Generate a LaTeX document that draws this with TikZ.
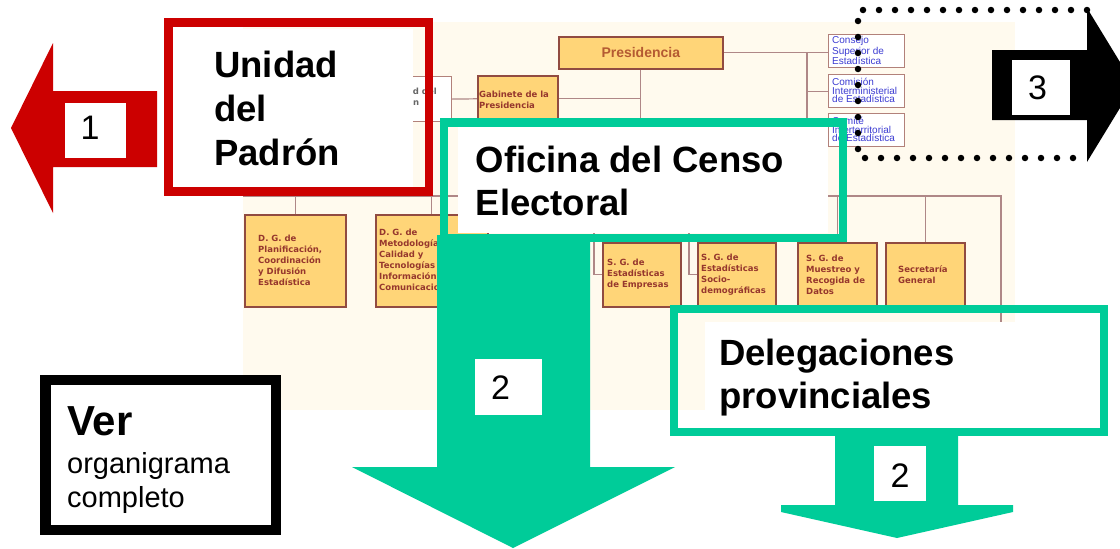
\documentclass[tikz,border=0pt]{standalone}
\usepackage{fontspec}
\setmainfont{Liberation Sans}
\newfontfamily\chartfont{DejaVu Sans}
\usetikzlibrary{calc,backgrounds}
\definecolor{redc}{RGB}{204,0,0}
\definecolor{greenc}{RGB}{0,204,153}
\definecolor{cream}{RGB}{255,250,238}
\definecolor{orgfill}{RGB}{255,213,120}
\definecolor{orgbrd}{RGB}{145,75,65}
\definecolor{orgtxt}{RGB}{150,55,45}
\definecolor{orgline}{RGB}{175,135,135}
\definecolor{bluetxt}{RGB}{60,60,210}
\definecolor{prestxt}{RGB}{180,90,50}
\begin{document}
\begin{tikzpicture}[x=1pt,y=-1pt,
  orgbox/.style={draw=orgbrd, fill=orgfill, line width=1.6pt, inner sep=0pt, anchor=north west},
  orgtext/.style={anchor=west, inner sep=0pt, text=orgtxt, align=left, font=\chartfont\bfseries\fontsize{8.5}{11}\selectfont},
  wbox/.style={draw=orgbrd!70, fill=white, line width=1.2pt, inner sep=0pt, anchor=north west},
  bluetext/.style={anchor=west, inner sep=0pt, text=bluetxt, align=left, font=\fontsize{10}{8.8}\selectfont},
  orgln/.style={draw=orgline, line width=1.2pt},
  frame/.style={line width=8.5pt},
  title/.style={anchor=base west, inner sep=0pt, font=\bfseries\fontsize{36.5}{44}\selectfont},
  numbox/.style={fill=white, inner sep=0pt},
  numtxt/.style={inner sep=0pt, font=\fontsize{34}{34}\selectfont},
]
\useasboundingbox (0,0) rectangle (1120,549);
\clip (0,0) rectangle (1120,549);
% ---------- background organigram: boxes ----------
\node[orgbox, minimum width=164pt, minimum height=32pt, text=prestxt, font=\bfseries\fontsize{14}{14}\selectfont] (pres) at (558,36) {Presidencia};
\node[orgbox, minimum width=80pt, minimum height=46pt] (gab) at (477,75) {};
\node[wbox, minimum width=71pt, minimum height=45pt] (ucb) at (380,76) {};
\node[wbox, minimum width=76pt, minimum height=33pt] (cons) at (828,34) {};
\node[wbox, minimum width=76pt, minimum height=33pt] (comi) at (828,74) {};
\node[wbox, minimum width=76pt, minimum height=33pt] (comt) at (828,113) {};
\node[orgbox, minimum width=101pt, minimum height=92pt] (dgplan) at (244,214) {};
\node[orgbox, minimum width=112pt, minimum height=92pt] (dgmet) at (375,214) {};
\node[orgbox, minimum width=78pt, minimum height=64pt] (sgemp) at (602,242) {};
\node[orgbox, minimum width=78pt, minimum height=64pt] (sgsoc) at (697,242) {};
\node[orgbox, minimum width=79pt, minimum height=64pt] (sgmue) at (797,242) {};
\node[orgbox, minimum width=79pt, minimum height=64pt] (sgsec) at (885,242) {};
% ---------- background organigram: panel and connectors (behind) ----------
\coordinate (busL) at (243,196);
\coordinate (busR) at (1001,196);
\coordinate (rdown) at (1001,410);
\coordinate (rv) at (807,52);
\coordinate (b1) at (594,196);
\coordinate (b2) at (689,196);
\begin{pgfonlayer}{background}
\fill[white] (0,0) rectangle (1120,549);
\fill[cream] (243,22) rectangle (1015,410);
\draw[orgln] (busL) -- (busR) -- (rdown);
\draw[orgln] (pres.south) -- (pres.south |- busL);
\draw[orgln] (ucb.east) -- (gab.west);
\draw[orgln] (gab.east) -- (gab.east -| pres.south);
\draw[orgln] (pres.east) -- (cons.west |- pres.east);
\draw[orgln] (rv) |- (comi.west);
\draw[orgln] (rv) |- (comt.west);
\draw[orgln] (dgplan.north |- busL) -- (dgplan.north);
\draw[orgln] (dgmet.north |- busL) -- (dgmet.north);
\draw[orgln] (b1) |- (sgemp.west);
\draw[orgln] (b2) |- (sgsoc.west);
\draw[orgln] (sgmue.north |- busL) -- (sgmue.north);
\draw[orgln] (sgsec.north |- busL) -- (sgsec.north);
\end{pgfonlayer}
% texts of the organigram
\node[orgtext] (gabt) at (479,100) {Gabinete de la\\Presidencia};
\node[orgtext, text=black!60] (ucbt) at (385,97) {Unidad del\\Padrón};
\node[bluetext] (const) at (832,50.5) {Consejo\\Superior de\\Estadística};
\node[bluetext] (comix) at (832,90.5) {Comisión\\Interministerial\\de Estadística};
\node[bluetext] (comtx) at (832,129.5) {Comité\\Interterritorial\\de Estadística};
\node[orgtext] (dgplant) at (258,260) {D. G. de\\Planificación,\\Coordinación\\y Difusión\\Estadística};
\node[orgtext] (dgmett) at (379,260) {D. G. de\\Metodología,\\Calidad y\\Tecnologías de la\\Información y\\Comunicaciones};
\node[orgtext] (sgempt) at (607,274) {S. G. de\\Estadísticas\\de Empresas};
\node[orgtext] (sgsoct) at (701,274.5) {S. G. de\\Estadísticas\\Socio-\\demográficas};
\node[orgtext] (sgmuet) at (806,274.5) {S. G. de\\Muestreo y\\Recogida de\\Datos};
\node[orgtext] (sgsect) at (898,274.5) {Secretaría\\General};
% ---------- red arrow 1 ----------
\fill[redc] (157,91) -- (53,91) -- (53,43) -- (11,128) -- (53,213) -- (53,167) -- (157,167) -- cycle;
% ---------- white label fields ----------
\fill[white] (173,29) rectangle (413,187);
\fill[white] (458,127) rectangle (828,233);
\fill[white] (705,322) rectangle (1100,428);
% ---------- frames ----------
\draw[redc, frame] (168.5,22.5) rectangle (429,191.5);
\draw[greenc, frame] (444,122.5) rectangle (843,238);
\draw[greenc, frame] (674,309) rectangle (1104,432);
\draw[black, line width=10.5pt, fill=white] (45.5,380) rectangle (276,530);
% ---------- titles ----------
\node[title] (u1) at (214,77) {Unidad};
\node[title] (u2) at (214,121) {del};
\node[title] (u3) at (214,165) {Padrón};
\node[title] (o1) at (475.5,172) {Oficina del Censo};
\node[title] (o2) at (475.5,215) {Electoral};
\node[title] (d1) at (719,365) {Delegaciones};
\node[title] (d2) at (719,408) {provinciales};
\node[anchor=base west, inner sep=0pt, font=\bfseries\fontsize{42}{42}\selectfont] (v1) at (67,435) {Ver};
\node[anchor=base west, inner sep=0pt, font=\fontsize{29}{29}\selectfont] (v2) at (67,473) {organigrama};
\node[anchor=base west, inner sep=0pt, font=\fontsize{29}{29}\selectfont] (v3) at (67,507) {completo};
% ---------- green arrows ----------
\fill[greenc] (437,235) -- (590,235) -- (590,467) -- (675,467) -- (513,548) -- (352,467) -- (437,467) -- cycle;
\fill[greenc] (835,436) -- (958,436) -- (958,505) -- (1013,505) -- (1013,512) -- (897,538) -- (781,512) -- (781,505) -- (835,505) -- cycle;
% ---------- number labels ----------
\node[numbox, minimum width=61pt, minimum height=55pt] (n1box) at (95.5,130.5) {};
\node[numtxt] (n1) at (90,127.5) {1};
\node[numbox, minimum width=67pt, minimum height=56pt] (n2box) at (508.5,387) {};
\node[numtxt] (n2) at (500.5,387.5) {2};
\node[numbox, minimum width=52pt, minimum height=55pt] (n4box) at (900,473.5) {};
\node[numtxt] (n4) at (900,476) {2};
% ---------- dotted frame and black arrow 3 ----------
\draw[black, line width=6.5pt, line cap=round, dash pattern=on 0pt off 16pt] (1087,10) -- (858,10) -- (858,158) -- (1087,158);
\fill[black] (992,50) -- (1087,50) -- (1087,8) -- (1134,85) -- (1087,162) -- (1087,120) -- (992,120) -- cycle;
\node[numbox, minimum width=58pt, minimum height=55pt] (n3box) at (1041,87.5) {};
\node[numtxt] (n3) at (1037.5,87.5) {3};
\end{tikzpicture}
\end{document}
